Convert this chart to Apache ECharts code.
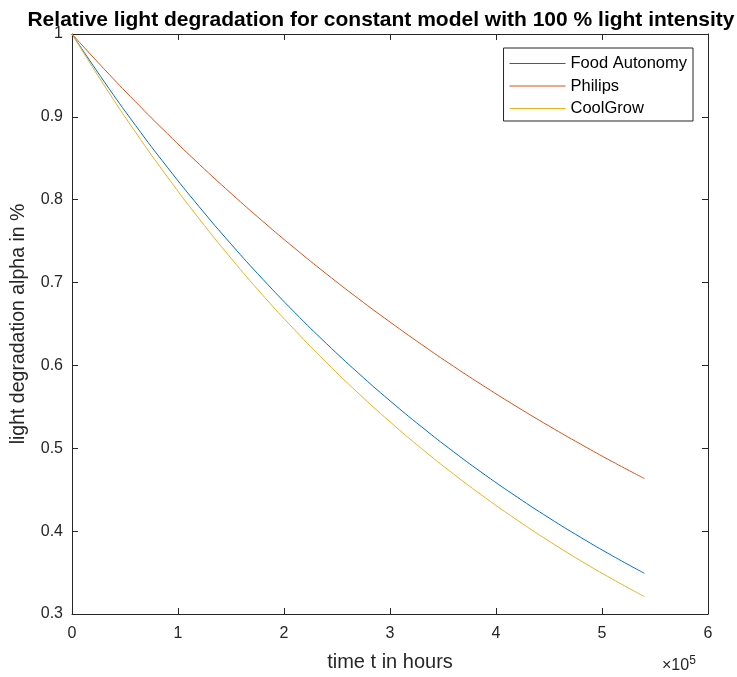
<!DOCTYPE html>
<html>
<head>
<meta charset="utf-8">
<script src="https://cdn.jsdelivr.net/npm/echarts@6/dist/echarts.min.js"></script>
<style>
html,body{margin:0;padding:0;background:#fff;overflow:hidden;}
#chart{width:737px;height:677px;}
</style>
</head>
<body>
<div id="chart"></div>
<script>
// time in hours
var hours = [0, 30000, 60000, 90000, 120000, 150000, 180000, 210000, 240000, 270000,
             300000, 330000, 360000, 390000, 420000, 450000, 480000, 510000, 540000];
var foodAutonomy = [1, 0.9432, 0.8896, 0.8391, 0.7915, 0.7465, 0.7041, 0.6641, 0.6264, 0.5909,
                    0.5573, 0.5257, 0.4958, 0.4676, 0.4411, 0.4160, 0.3924, 0.3701, 0.3491];
var philips = [1, 0.9582, 0.9181, 0.8797, 0.8429, 0.8077, 0.7739, 0.7415, 0.7105, 0.6808,
               0.6524, 0.6251, 0.5989, 0.5739, 0.5499, 0.5269, 0.5049, 0.4837, 0.4635];
var coolGrow = [1, 0.9388, 0.8814, 0.8275, 0.7769, 0.7294, 0.6847, 0.6429, 0.6035, 0.5666,
                0.5320, 0.4994, 0.4689, 0.4402, 0.4133, 0.3880, 0.3642, 0.3420, 0.3210];
var seriesNames = ['Food Autonomy', 'Philips', 'CoolGrow'];
var xTickLabels = ['0', '1', '2', '3', '4', '5', '6'];
var yTickLabels = ['0.3', '0.4', '0.5', '0.6', '0.7', '0.8', '0.9', '1'];

function pairs(ys) { return hours.map(function (h, i) { return [h, ys[i]]; }); }

var axisColor = '#262626';
var font = 'Liberation Sans, Arial, Helvetica, sans-serif';
var chart = echarts.init(document.getElementById('chart'), null, {renderer: 'canvas', width: 737, height: 677});

function xAx(pos, show) {
  return {
    type: 'value', position: pos, min: 0, max: 600000, interval: 100000,
    axisLine: {show: true, onZero: false, lineStyle: {color: axisColor, width: 1}},
    axisTick: {show: true, inside: true, length: 6, lineStyle: {color: axisColor}},
    splitLine: {show: false},
    axisLabel: {show: show, color: axisColor, fontSize: 16, fontFamily: font, margin: 12,
      formatter: function (v) { return xTickLabels[Math.round(v / 100000)]; }},
    name: show ? 'time t in hours' : '', nameLocation: 'middle', nameGap: 38,
    nameTextStyle: {color: axisColor, fontSize: 20, fontFamily: font}
  };
}
function yAx(pos, show) {
  return {
    type: 'value', position: pos, min: 0.3, max: 1, interval: 0.1,
    axisLine: {show: true, onZero: false, lineStyle: {color: axisColor, width: 1}},
    axisTick: {show: true, inside: true, length: 6, lineStyle: {color: axisColor}},
    splitLine: {show: false},
    axisLabel: {show: show, color: axisColor, fontSize: 16, fontFamily: font, margin: 9,
      formatter: function (v) { return yTickLabels[Math.round((v - 0.3) * 10)]; }},
    name: show ? 'light degradation alpha in %' : '', nameLocation: 'middle', nameGap: 43,
    nameRotate: 90,
    nameTextStyle: {color: axisColor, fontSize: 19.5, fontFamily: font}
  };
}

var colors = ['#0072BD', '#D95319', '#EDB120'];
var datas = [foodAutonomy, philips, coolGrow];

chart.setOption({
  animation: false,
  backgroundColor: '#ffffff',
  title: {
    text: 'Relative light degradation for constant model with 100 % light intensity',
    left: 376, top: 5, textAlign: 'center',
    textStyle: {fontSize: 21, fontWeight: 'bold', color: '#000', fontFamily: font}
  },
  grid: {left: 72, width: 636, top: 34, height: 583, containLabel: false},
  xAxis: [xAx('bottom', true), xAx('top', false)],
  yAxis: [yAx('left', true), yAx('right', false)],
  legend: {
    orient: 'vertical', right: 44, top: 48,
    backgroundColor: '#fff', borderColor: axisColor, borderWidth: 1, borderRadius: 0,
    padding: [7, 6, 4, 6], itemGap: 5.5, itemWidth: 56, itemHeight: 1, icon: 'rect',
    textStyle: {color: '#000', fontSize: 16.5, lineHeight: 16, fontFamily: font},
    data: seriesNames
  },
  series: seriesNames.map(function (n, i) {
    return {
      name: n, type: 'line', xAxisIndex: 0, yAxisIndex: 0,
      data: pairs(datas[i]), smooth: true, symbol: 'none', showSymbol: false,
      lineStyle: {color: colors[i], width: 1}, itemStyle: {color: colors[i]}
    };
  }),
  graphic: [{
    type: 'text', left: 662, top: 655,
    style: {
      rich: {
        a: {fontSize: 16, fontFamily: font, fill: axisColor},
        s: {fontSize: 12, fontFamily: font, fill: axisColor, verticalAlign: 'top', padding: [0, 0, 9, 0]}
      },
      text: '{a|\u00d710}{s|5}'
    }
  }]
});
</script>
</body>
</html>
